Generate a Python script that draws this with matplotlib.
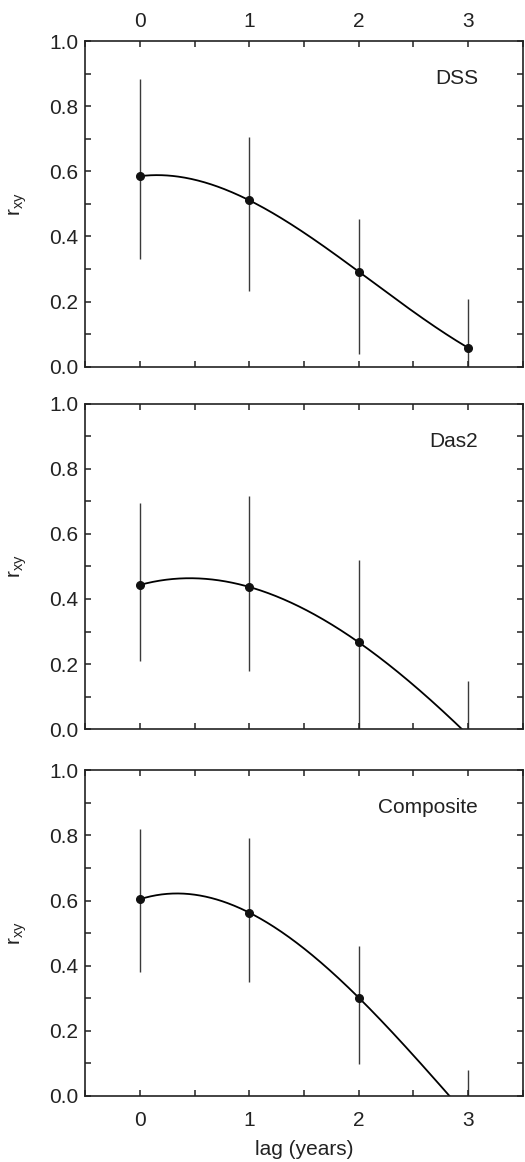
import numpy as np
import matplotlib
matplotlib.use("Agg")
import matplotlib.pyplot as plt
from matplotlib.ticker import MultipleLocator

plt.rcParams['font.family'] = ['Liberation Sans', 'DejaVu Sans']
plt.rcParams['font.size'] = 15

# lagged correlation r_xy with asymmetric confidence limits
lags = [0, 1, 2, 3]

dss_r = [0.585, 0.511, 0.292, 0.058]
dss_lo = [0.330, 0.232, 0.039, -0.10]
dss_hi = [0.883, 0.705, 0.455, 0.207]

das2_r = [0.443, 0.437, 0.267, -0.018]
das2_lo = [0.210, 0.179, -0.03, -0.20]
das2_hi = [0.696, 0.715, 0.519, 0.149]

comp_r = [0.604, 0.563, 0.302, -0.065]
comp_lo = [0.381, 0.349, 0.097, -0.20]
comp_hi = [0.820, 0.791, 0.460, 0.080]

panels = [
    ("DSS", dss_r, dss_lo, dss_hi),
    ("Das2", das2_r, das2_lo, das2_hi),
    ("Composite", comp_r, comp_lo, comp_hi),
]

fig = plt.figure(figsize=(5.25, 11.62), dpi=100)
left, width, height = 0.162, 0.834, 0.2803
bottoms = [0.6844, 0.3724, 0.0568]

xs = np.linspace(0, 3, 300)
for i, (name, r, lo, hi) in enumerate(panels):
    ax = fig.add_axes([left, bottoms[i], width, height])
    r = np.array(r)
    yerr = [r - np.array(lo), np.array(hi) - r]

    # cubic through the four lag values
    coef = np.polyfit(lags, r, 3)
    ax.plot(xs, np.polyval(coef, xs), color='black', lw=1.3, zorder=2)
    ax.errorbar(lags, r, yerr=yerr, fmt='none', ecolor='#3a3a3a',
                elinewidth=1.0, capsize=0, zorder=1)
    ax.plot(lags, r, 'o', color='#111111', ms=5.5, zorder=3)

    ax.text(3.09, 0.885, name, ha='right', va='center', fontsize=15,
            color='#222222')

    ax.set_xlim(-0.5, 3.5)
    ax.set_ylim(0, 1.0)
    ax.xaxis.set_major_locator(MultipleLocator(1))
    ax.xaxis.set_minor_locator(MultipleLocator(0.5))
    ax.yaxis.set_major_locator(MultipleLocator(0.2))
    ax.yaxis.set_minor_locator(MultipleLocator(0.1))
    ax.yaxis.set_major_formatter(matplotlib.ticker.FormatStrFormatter('%.1f'))

    for s in ax.spines.values():
        s.set_linewidth(1.2)
        s.set_color('#222222')
    ax.tick_params(which='both', direction='in', top=True, right=True,
                   length=4, width=1.1, color='#222222')
    ax.tick_params(axis='y', pad=5, labelcolor='#222222')
    ax.tick_params(axis='x', labelcolor='#222222')

    if i == 0:
        ax.tick_params(axis='x', labeltop=True, labelbottom=False, pad=7)
    elif i == 2:
        ax.tick_params(axis='x', labelbottom=True, pad=11)
        ax.set_xlabel('lag (years)', labelpad=7, color='#222222')
    else:
        ax.tick_params(axis='x', labelbottom=False)

    ax.set_ylabel(r'$\mathregular{r_{xy}}$', color='#222222')
    ax.yaxis.set_label_coords(-0.128, 0.5)

fig.savefig('out.png', dpi=100)
